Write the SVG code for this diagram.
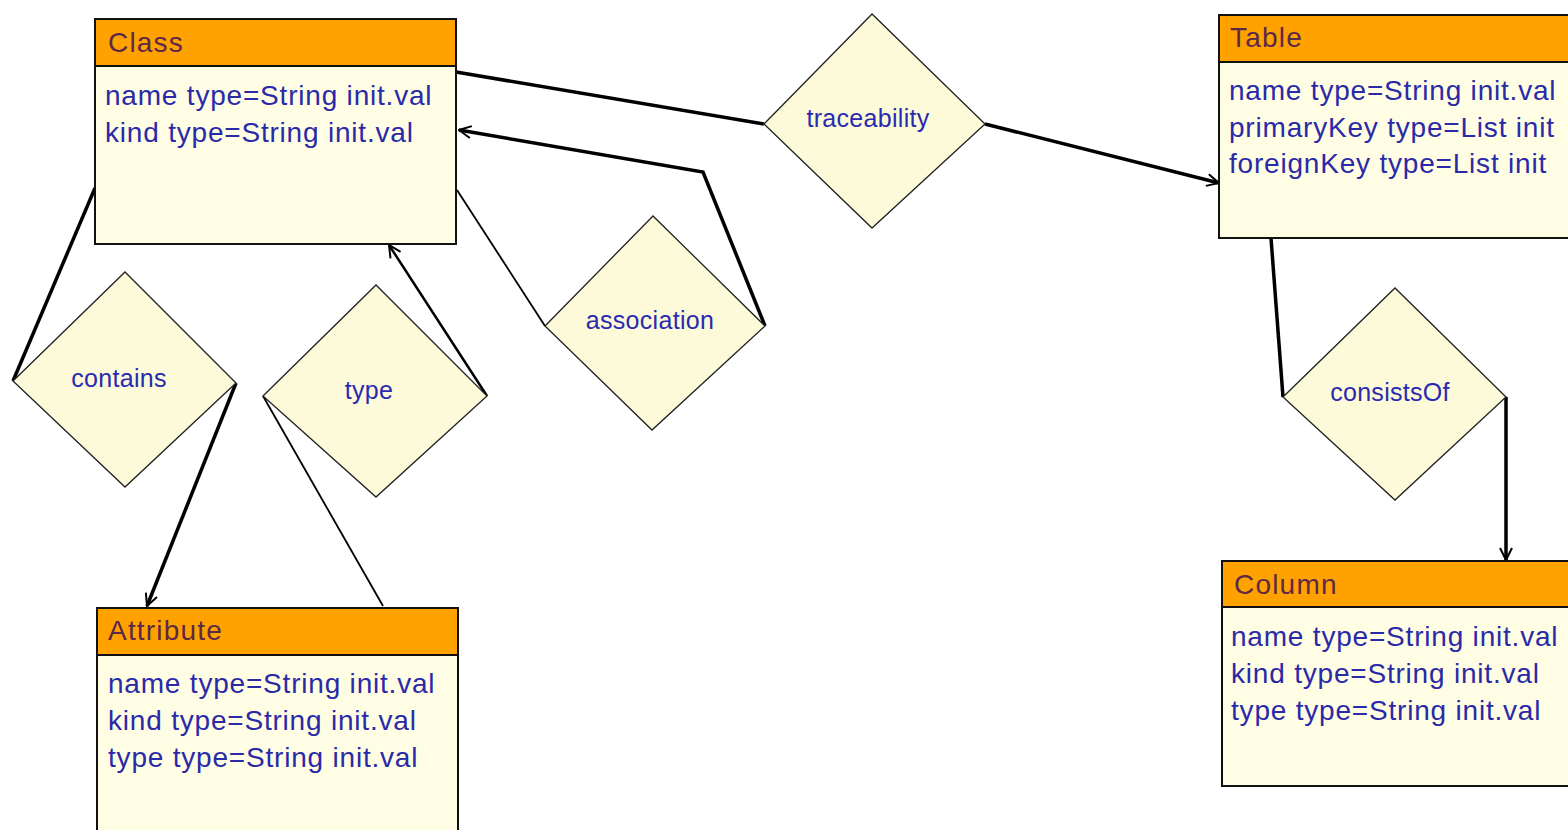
<svg xmlns="http://www.w3.org/2000/svg" width="1568" height="830" viewBox="0 0 1568 830">
<style>
.body{fill:#FFFDE4;stroke:#111;stroke-width:2}
.head{fill:#FFA200;stroke:#111;stroke-width:2}
.dia{fill:#FDFADA;stroke:#222;stroke-width:1.3}
.ht{font-family:"Liberation Sans",Arial,sans-serif;font-size:28px;fill:#5E2848;letter-spacing:1.2px}
.at{font-family:"Liberation Sans",Arial,sans-serif;font-size:28px;fill:#2A2AA8;letter-spacing:0.8px}
.dt{font-family:"Liberation Sans",Arial,sans-serif;font-size:25px;fill:#2A2AB0;text-anchor:middle;letter-spacing:0.3px}
.thick{fill:none;stroke:#000;stroke-width:3.5}
.mid{fill:none;stroke:#000;stroke-width:2.5}
.thin{fill:none;stroke:#000;stroke-width:1.8}
</style>
<defs>
<marker id="arr" viewBox="0 0 14 14" refX="13" refY="7" markerWidth="14" markerHeight="14" orient="auto" markerUnits="userSpaceOnUse">
<path d="M1,1 L13,7 L1,13" fill="none" stroke="#000" stroke-width="2"/>
</marker>
</defs>
<rect width="1568" height="830" fill="#fff"/>
<g id="connectors">
<path class="thick" d="M456,72 L764,124"/>
<path class="thick" d="M985,124 L1219,183" marker-end="url(#arr)"/>
<path class="thick" d="M765,326 L703,172 L459,130" marker-end="url(#arr)"/>
<path class="thin" d="M457,190 L545,326"/>
<path class="thick" d="M95,188 L13,381"/>
<path class="thick" d="M236,383 L147,606" marker-end="url(#arr)"/>
<path class="thin" d="M263,396 L383,606"/>
<path class="mid" d="M487,396 L389,245" marker-end="url(#arr)"/>
<path class="thick" d="M1271,238 L1283,397"/>
<path class="thick" d="M1506,397 L1506,560" marker-end="url(#arr)"/>
</g>
<g id="class">
<rect class="body" x="95" y="19" width="361" height="225"/>
<rect class="head" x="95" y="19" width="361" height="47"/>
<text class="ht" x="108" y="52">Class</text>
<text class="at" x="105" y="105">name type=String init.val</text>
<text class="at" x="105" y="142">kind type=String init.val</text>
</g>
<g id="table">
<rect class="body" x="1219" y="15" width="360" height="223"/>
<rect class="head" x="1219" y="15" width="360" height="47"/>
<text class="ht" x="1230" y="47">Table</text>
<text class="at" x="1229" y="100">name type=String init.val</text>
<text class="at" x="1229" y="137">primaryKey type=List init</text>
<text class="at" x="1229" y="173">foreignKey type=List init</text>
</g>
<g id="attribute">
<rect class="body" x="97" y="608" width="361" height="240"/>
<rect class="head" x="97" y="608" width="361" height="47"/>
<text class="ht" x="108" y="640">Attribute</text>
<text class="at" x="108" y="693">name type=String init.val</text>
<text class="at" x="108" y="730">kind type=String init.val</text>
<text class="at" x="108" y="767">type type=String init.val</text>
</g>
<g id="column">
<rect class="body" x="1222" y="561" width="360" height="225"/>
<rect class="head" x="1222" y="561" width="360" height="46"/>
<text class="ht" x="1234" y="594">Column</text>
<text class="at" x="1231" y="646">name type=String init.val</text>
<text class="at" x="1231" y="683">kind type=String init.val</text>
<text class="at" x="1231" y="720">type type=String init.val</text>
</g>
<g id="traceability">
<polygon class="dia" points="764,124 872,14 985,124 872,228"/>
<text class="dt" x="868" y="127">traceability</text>
</g>
<g id="association">
<polygon class="dia" points="545,326 653,216 765,326 652,430"/>
<text class="dt" x="650" y="329">association</text>
</g>
<g id="contains">
<polygon class="dia" points="13,381 125,272 236,383 125,487"/>
<text class="dt" x="119" y="387">contains</text>
</g>
<g id="type">
<polygon class="dia" points="263,396 376,285 487,396 376,497"/>
<text class="dt" x="369" y="399">type</text>
</g>
<g id="consistsOf">
<polygon class="dia" points="1283,397 1395,288 1506,397 1395,500"/>
<text class="dt" x="1390" y="401">consistsOf</text>
</g>
</svg>
